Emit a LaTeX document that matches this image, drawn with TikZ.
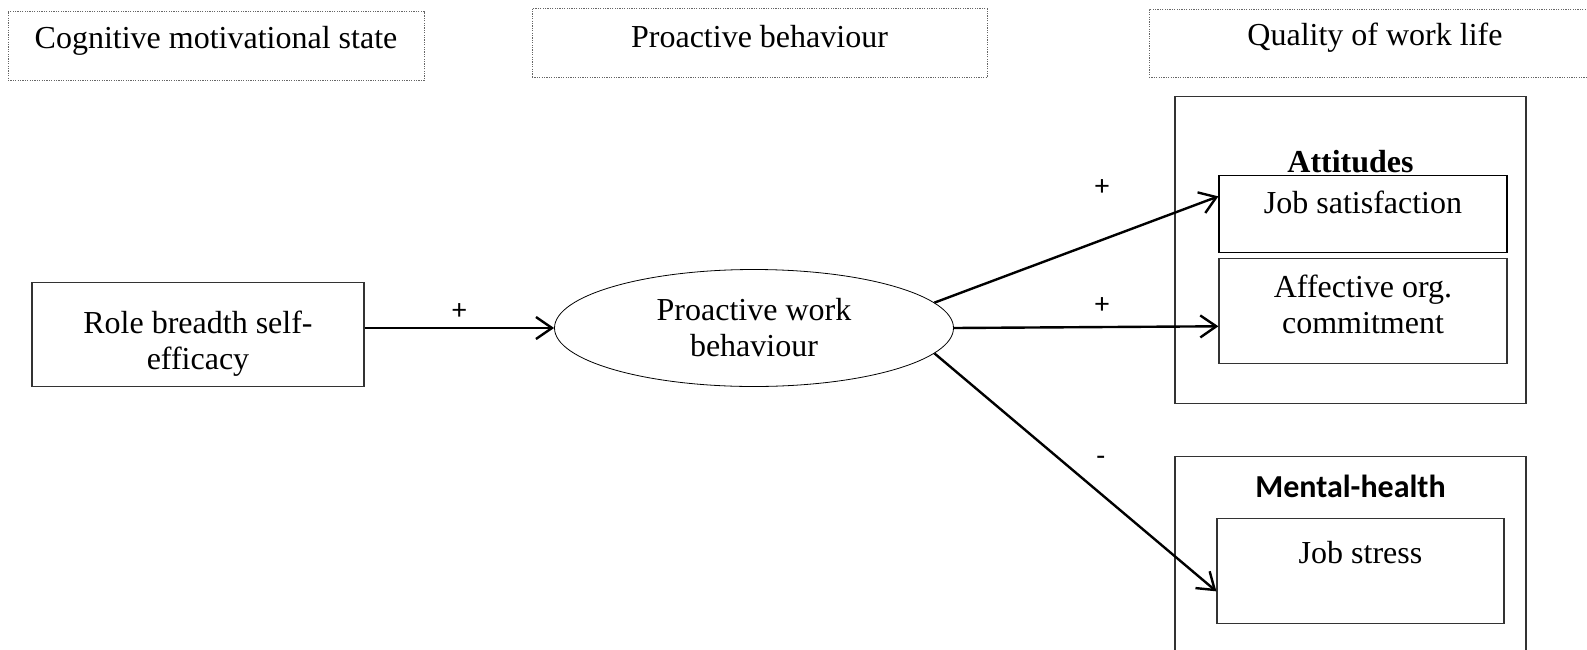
\documentclass[tikz,border=0pt]{standalone}
\usepackage{fontspec}
\setmainfont{Liberation Serif}
\newfontfamily\calibri{Carlito}
\usetikzlibrary{shapes.geometric,arrows.meta}

\begin{document}
\begin{tikzpicture}[x=0.5pt,y=-0.5pt,
		every node/.style={font=\fontsize{16}{18}\selectfont, inner sep=0pt},
		headbox/.style={draw=black!60, dash pattern=on 0.6pt off 0.6pt, line width=0.5pt, anchor=north},
		plainbox/.style={draw=black!80, line width=0.6pt, align=center, anchor=north},
		link/.style={line width=1.2pt, -{Straight Barb[length=8pt,width=11pt]}},
		sign/.style={font=\calibri\fontsize{14.5}{16}\selectfont}]
		
		\useasboundingbox (0,0) rectangle (1587,649);
		
		% column headings
		\node[headbox, minimum width=208pt, text height=18.5pt, text depth=16pt] (cms) at (216,11) {Cognitive motivational state};
		\node[headbox, minimum width=227.5pt, text height=19.5pt, text depth=15pt] (pbh) at (759.5,8) {Proactive behaviour};
		\node[headbox, minimum width=226pt, text height=18pt, text depth=16pt] (qwl) at (1375,9) {Quality of work life};
		
		\node[plainbox, minimum width=166pt, text height=43.5pt, text depth=8.5pt] (rbse) at (198,282) {Role breadth self-\\efficacy};
		\node[ellipse, draw, line width=0.4pt, align=center, minimum width=199.5pt, minimum height=58.5pt] (pwb) at (754,328) {Proactive work\\behaviour};
		
		% outcome groups
		\node[plainbox, minimum width=175.5pt, text height=38pt, text depth=115.5pt] (att) at (1350.5,96) {\textbf{Attitudes}};
		\node[plainbox, draw=black, minimum width=144pt, text height=19pt, text depth=19.5pt] (jsat) at (1363,175) {Job satisfaction};
		\node[plainbox, minimum width=144pt, text height=37.5pt, text depth=15pt] (aoc) at (1363,258) {Affective org.\\commitment};
		\node[plainbox, minimum width=175.5pt, text height=20.5pt, text depth=101.5pt] (mh) at (1350.5,456) {\calibri\bfseries Mental-health};
		\node[plainbox, minimum width=143.5pt, text height=22.5pt, text depth=30pt] (jst) at (1360.5,518) {Job stress};
		
		\draw[link] (pwb.west -| rbse.east) -- (pwb.west) node[sign, midway, yshift=8pt] (s1) {+};
		\draw[link] (pwb.8) -- (jsat.173) node[sign, pos=.59, yshift=26pt] (s2) {+};
		\draw[link] (pwb.east) -- (aoc.186.5) node[sign, pos=.56, yshift=11pt] (s3) {+};
		\draw[link] (pwb.-8) -- (jst.188.5) node[sign, pos=.59, yshift=16.5pt] (s4) {-};
		
\end{tikzpicture}
\end{document}
